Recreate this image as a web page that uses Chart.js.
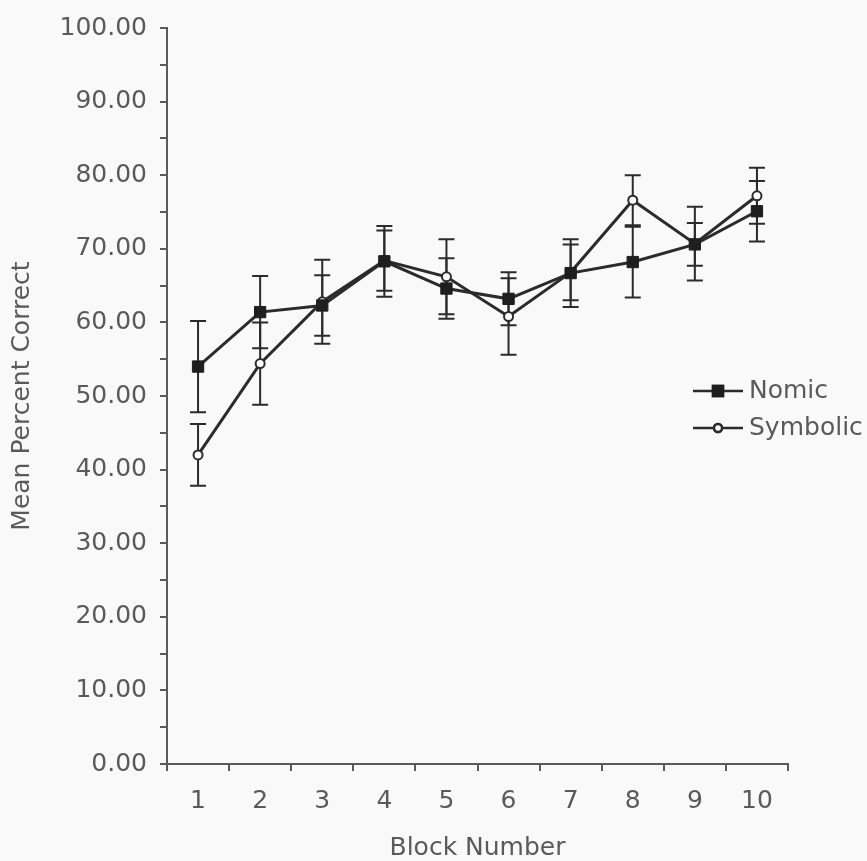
<!DOCTYPE html>
<html>
<head>
<meta charset="utf-8">
<script src="https://cdn.jsdelivr.net/npm/chart.js@4.4.0/dist/chart.umd.min.js"></script>
<style>
  body { margin: 0; background: #f9f9f9; }
  #meanChart { display: block; }
</style>
</head>
<body>
<canvas id="meanChart" width="867" height="861"></canvas>
<script>
const blocks = ['1', '2', '3', '4', '5', '6', '7', '8', '9', '10'];
const nomicMeans = [54.0, 61.4, 62.3, 68.3, 64.6, 63.2, 66.7, 68.2, 70.6, 75.1];
const nomicErrors = [6.2, 4.9, 4.1, 4.8, 4.1, 3.6, 4.6, 4.8, 2.9, 4.1];
const symbolicMeans = [42.0, 54.4, 62.8, 68.4, 66.2, 60.8, 66.8, 76.6, 70.7, 77.2];
const symbolicErrors = [4.2, 5.6, 5.7, 4.1, 5.1, 5.2, 3.8, 3.4, 5.0, 3.8];
const seriesNames = ['Nomic', 'Symbolic'];

const inkColor = '#2b2b2b';
const textColor = '#5a5a5a';

Chart.defaults.font.family = "'DejaVu Sans', Verdana, sans-serif";
Chart.defaults.font.size = 25;
Chart.defaults.color = textColor;

// vertical error bars with caps, drawn under the markers
const errorBars = {
    id: 'errorBars',
    beforeDatasetsDraw(chart) {
        const ctx = chart.ctx;
        const yScale = chart.scales.y;
        ctx.save();
        ctx.strokeStyle = inkColor;
        ctx.lineWidth = 2;
        chart.data.datasets.forEach((ds, i) => {
            const meta = chart.getDatasetMeta(i);
            meta.data.forEach((pt, j) => {
                const err = ds.errors[j];
                const top = yScale.getPixelForValue(ds.data[j] + err);
                const bottom = yScale.getPixelForValue(ds.data[j] - err);
                ctx.beginPath();
                ctx.moveTo(pt.x, top);
                ctx.lineTo(pt.x, bottom);
                ctx.moveTo(pt.x - 8, top);
                ctx.lineTo(pt.x + 8, top);
                ctx.moveTo(pt.x - 8, bottom);
                ctx.lineTo(pt.x + 8, bottom);
                ctx.stroke();
            });
        });
        ctx.restore();
    }
};

// legend sits inside the plot on the right, like the original
const insideLegend = {
    id: 'insideLegend',
    afterDraw(chart) {
        const ctx = chart.ctx;
        const x0 = 693, x1 = 743;
        const rows = [391, 428];
        ctx.save();
        chart.data.datasets.forEach((ds, i) => {
            const y = rows[i];
            ctx.strokeStyle = inkColor;
            ctx.lineWidth = 2.5;
            ctx.beginPath();
            ctx.moveTo(x0, y);
            ctx.lineTo(x1, y);
            ctx.stroke();
            Chart.helpers.drawPoint(ctx, {
                pointStyle: ds.pointStyle,
                radius: ds.pointStyle === 'rect' ? 7 : 4,
                borderWidth: 2
            }, (x0 + x1) / 2, y);
            ctx.fillStyle = ds.pointBackgroundColor;
            ctx.strokeStyle = ds.pointBorderColor;
            ctx.fill();
            ctx.stroke();
            ctx.fillStyle = textColor;
            ctx.font = "25px 'DejaVu Sans', Verdana, sans-serif";
            ctx.textAlign = 'left';
            ctx.textBaseline = 'middle';
            ctx.fillText(ds.label, 749, y);
        });
        ctx.restore();
    }
};

const ctx = document.getElementById('meanChart').getContext('2d');
const meanChart = new Chart(ctx, {
    type: 'line',
    data: {
        labels: blocks,
        datasets: [{
            label: seriesNames[0],
            data: nomicMeans,
            errors: nomicErrors,
            borderColor: inkColor,
            borderWidth: 3,
            tension: 0,
            pointStyle: 'rect',
            pointRadius: 8,
            pointBackgroundColor: '#1e1e1e',
            pointBorderColor: '#1e1e1e',
            pointBorderWidth: 1
        }, {
            label: seriesNames[1],
            data: symbolicMeans,
            errors: symbolicErrors,
            borderColor: inkColor,
            borderWidth: 3,
            tension: 0,
            pointStyle: 'circle',
            pointRadius: 4.5,
            pointBackgroundColor: '#ffffff',
            pointBorderColor: inkColor,
            pointBorderWidth: 2
        }]
    },
    options: {
        responsive: false,
        animation: false,
        layout: { padding: { top: 26, right: 79, bottom: 0, left: 0 } },
        plugins: {
            legend: { display: false },
            tooltip: { enabled: false }
        },
        scales: {
            x: {
                offset: true,
                afterFit: s => { s.height = 97; },
                grid: { offset: true, drawOnChartArea: false, tickLength: 7, color: textColor, lineWidth: 2 },
                border: { color: textColor, width: 2 },
                ticks: { padding: 15 },
                title: {
                    display: true,
                    text: 'Block Number',
                    font: { size: 25, lineHeight: 1 },
                    padding: { top: 0, bottom: 0 }
                }
            },
            y: {
                min: 0,
                max: 100,
                afterFit: s => { s.width = 167; },
                grid: { drawOnChartArea: false, tickLength: 7, color: textColor, lineWidth: 2 },
                border: { color: textColor, width: 2 },
                ticks: {
                    stepSize: 5,
                    padding: 13,
                    callback: v => (v % 10 === 0 ? v.toFixed(2) : '')
                },
                title: {
                    display: true,
                    text: 'Mean Percent Correct',
                    font: { size: 25, lineHeight: 1 },
                    padding: { top: 10, bottom: 0 }
                }
            }
        }
    },
    plugins: [errorBars, insideLegend]
});
</script>
</body>
</html>
